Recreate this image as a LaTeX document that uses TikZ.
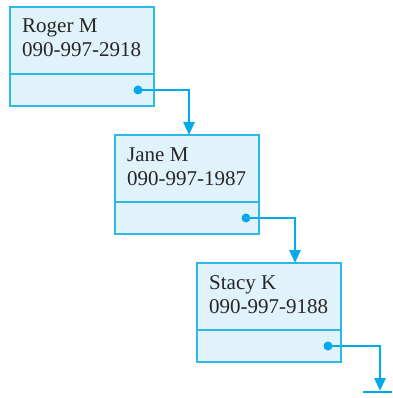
\documentclass[tikz,border=0pt]{standalone}
\usepackage{fontspec}
\setmainfont{Liberation Serif}
\usetikzlibrary{arrows.meta}
\definecolor{boxfill}{RGB}{224,242,250}
\definecolor{boxline}{RGB}{45,184,232}
\definecolor{link}{RGB}{0,170,235}
\begin{document}
\begin{tikzpicture}[x=1pt,y=-1pt,
  databox/.style={draw=boxline,fill=boxfill,line width=1.3pt,minimum width=144pt,minimum height=67pt,anchor=north west,inner sep=0pt,outer sep=0pt},
  ptrbox/.style={draw=boxline,fill=boxfill,line width=1.3pt,minimum width=144pt,minimum height=32pt,anchor=north west,inner sep=0pt,outer sep=0pt},
  label/.style={anchor=base west,align=left,inner sep=0pt,font=\fontsize{21pt}{24pt}\selectfont,text=black!85},
  linkline/.style={draw=link,line width=2.8pt,-{Triangle[width=11pt,length=13pt]}},
  dot/.style={circle,fill=link,inner sep=0pt,minimum size=9pt}]
\useasboundingbox (0,0) rectangle (392,398);
% box 1
\node[databox] (d1) at (10,7) {};
\node[ptrbox] (p1) at (10,74) {};
\node[label] (t1) at (22,57) {Roger M\\090-997-2918};
% box 2
\node[databox] (d2) at (115,135) {};
\node[ptrbox] (p2) at (115,202) {};
\node[label] (t2) at (127,185) {Jane M\\090-997-1987};
% box 3
\node[databox] (d3) at (197,263) {};
\node[ptrbox] (p3) at (197,330) {};
\node[label] (t3) at (209,313) {Stacy K\\090-997-9188};
% pointers
\node[dot] (s1) at (138,90) {};
\node[dot] (s2) at (246,218) {};
\node[dot] (s3) at (328,346) {};
\coordinate (e1) at (189,135);
\coordinate (e2) at (295,263);
\coordinate (e3) at (380,391);
\coordinate (g1) at (363,392);
\coordinate (g2) at (392,392);
\draw[linkline] (s1.center) -| (e1);
\draw[linkline] (s2.center) -| (e2);
\draw[linkline] (s3.center) -| (e3);
\draw[draw=link,line width=1.6pt] (g1) -- (g2);
\end{tikzpicture}
\end{document}
